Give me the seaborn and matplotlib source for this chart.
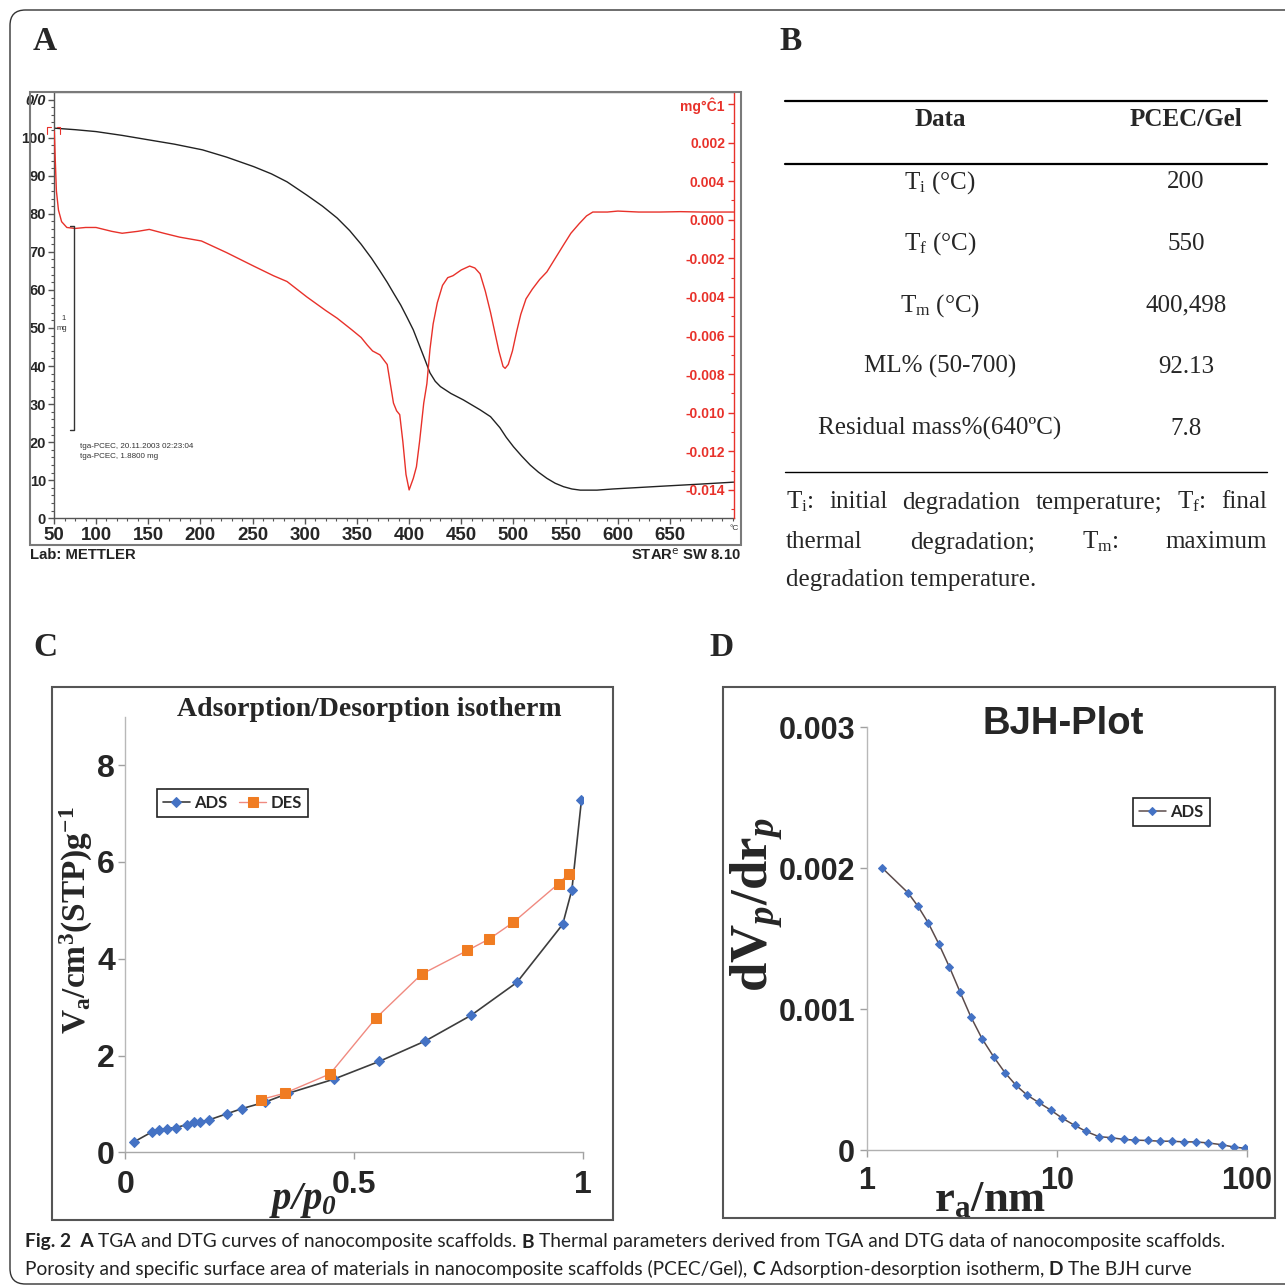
import matplotlib
matplotlib.use("Agg")
import numpy as np
import matplotlib.pyplot as plt
import seaborn as sns
from matplotlib.patches import Rectangle, FancyBboxPatch
from matplotlib.lines import Line2D
from matplotlib.ticker import NullLocator

# ---------------- data ----------------
# A: TGA (mass %) and DTG (mg/°C) against temperature
tga_temp = [60, 80, 100, 125, 151, 175, 202, 225, 251, 268, 283, 302, 317, 331, 343, 354, 364,
            372, 379, 385, 392, 398, 404, 409, 414, 420, 425, 430, 440, 452, 460, 468, 478,
            487, 493, 500, 508, 516, 524, 532, 540, 548, 556, 564, 580, 595, 640, 680, 711]
tga_mass = [102.5, 102.1, 101.6, 100.6, 99.4, 98.3, 96.8, 94.9, 92.4, 90.5, 88.4, 84.9, 82.0,
            78.9, 75.6, 72.0, 68.3, 65.0, 62.0, 59.2, 56.0, 52.8, 49.5, 46.0, 42.5, 38.2, 36.0,
            34.6, 32.8, 31.1, 29.8, 28.5, 26.7, 23.8, 21.3, 18.8, 16.3, 14.0, 12.1, 10.5, 9.2,
            8.3, 7.7, 7.4, 7.4, 7.7, 8.4, 9.0, 9.5]

dtg_temp = [60, 61, 62, 64, 67, 72, 80, 90, 100, 115, 125, 140, 151, 165, 180, 201, 225, 251,
            270, 283, 302, 320, 331, 345, 354, 360, 365, 372, 379, 382, 385, 388, 391, 394, 397,
            400, 404, 407, 410, 414, 417, 420, 423, 427, 432, 437, 442, 450, 458, 463, 468, 473,
            478, 482, 486, 490, 492, 495, 499, 503, 507, 512, 518, 525, 532, 540, 548, 555, 563,
            570, 576, 590, 600, 620, 640, 660, 680, 700, 711]
dtg_rate = [0.0046, 0.0030, 0.0015, 0.0005, -0.0001, -0.0004, -0.00045, -0.0004, -0.0004,
            -0.0006, -0.0007, -0.0006, -0.0005, -0.0007, -0.0009, -0.0011, -0.0017, -0.0024,
            -0.0029, -0.0032, -0.0040, -0.0047, -0.0051, -0.0057, -0.0061, -0.0065, -0.0068,
            -0.0070, -0.0075, -0.0085, -0.0095, -0.0099, -0.0101, -0.0115, -0.0132, -0.0140,
            -0.0134, -0.0128, -0.0115, -0.0095, -0.0085, -0.0067, -0.0054, -0.0043, -0.0034,
            -0.0030, -0.0029, -0.0026, -0.0024, -0.0025, -0.0028, -0.0037, -0.0048, -0.0058,
            -0.0068, -0.0076, -0.0077, -0.0075, -0.0068, -0.0058, -0.0049, -0.0041, -0.0036,
            -0.0031, -0.0027, -0.0020, -0.0013, -0.0007, -0.0002, 0.0002, 0.0004, 0.0004,
            0.00045, 0.0004, 0.0004, 0.00042, 0.0004, 0.0004, 0.0004]

tga_xticks = [60, 100, 150, 200, 250, 300, 350, 400, 450, 500, 550, 600, 650]
tga_xticklabels = ["50", "100", "150", "200", "250", "300", "350", "400", "450",
                   "500", "550", "600", "650"]
tga_yticks = [0, 10, 20, 30, 40, 50, 60, 70, 80, 90, 100, 110]
tga_yticklabels = ["0", "10", "20", "30", "40", "50", "60", "70", "80", "90", "100", "0/0"]
dtg_yticks = [-0.014, -0.012, -0.010, -0.008, -0.006, -0.004, -0.002, 0.0, 0.002, 0.004, 0.006]
dtg_yticklabels = ["-0.014", "-0.012", "-0.010", "-0.008", "-0.006", "-0.004", "-0.002",
                   "0.000", "0.004", "0.002", "mg°Ĉ1"]

# B: thermal parameters table
table_params = [r"T$_\mathrm{i}$ (°C)", r"T$_\mathrm{f}$ (°C)", r"T$_\mathrm{m}$ (°C)",
                "ML% (50-700)", "Residual mass%(640ºC)"]
table_values = ["200", "550", "400,498", "92.13", "7.8"]

# C: adsorption / desorption isotherm
ads_p = [0.020, 0.058, 0.074, 0.090, 0.110, 0.134, 0.151, 0.164, 0.183, 0.223, 0.254,
         0.306, 0.356, 0.455, 0.555, 0.655, 0.755, 0.855, 0.955, 0.975, 0.996]
ads_v = [0.22, 0.42, 0.47, 0.49, 0.51, 0.57, 0.62, 0.63, 0.67, 0.80, 0.90,
         1.04, 1.22, 1.51, 1.88, 2.30, 2.83, 3.51, 4.71, 5.42, 7.28]
des_p = [0.296, 0.348, 0.447, 0.547, 0.647, 0.747, 0.795, 0.847, 0.946, 0.969]
des_v = [1.09, 1.22, 1.62, 2.77, 3.68, 4.17, 4.41, 4.75, 5.55, 5.76]

# D: BJH pore size distribution
bjh_r = [1.21, 1.65, 1.86, 2.11, 2.39, 2.72, 3.10, 3.53, 4.05, 4.67, 5.34, 6.09, 6.97, 8.01,
         9.29, 10.7, 12.4, 14.2, 16.6, 19.3, 22.5, 25.9, 30.0, 34.7, 40.1, 46.7, 53.9, 62.5,
         73.8, 85.9, 97.8]
bjh_v = [0.00200, 0.001825, 0.00173, 0.00161, 0.001465, 0.00130, 0.00112, 0.000945, 0.000788,
         0.000658, 0.000548, 0.00046, 0.00039, 0.000338, 0.000283, 0.000225, 0.000175,
         0.000133, 0.000095, 0.0000875, 0.000075, 0.00007, 0.0000675, 0.0000625, 0.0000625,
         0.0000575, 0.0000575, 0.00005, 0.0000375, 0.00002, 0.0000125]

# ---------------- style ----------------
sns.set_theme(style="ticks")
plt.rcParams["font.family"] = ["Liberation Sans", "DejaVu Sans"]
plt.rcParams["mathtext.fontset"] = "custom"
plt.rcParams["mathtext.rm"] = "Liberation Serif"
plt.rcParams["mathtext.it"] = "Liberation Serif:italic"
plt.rcParams["mathtext.bf"] = "Liberation Serif:bold"
plt.rcParams["mathtext.bfit"] = "Liberation Serif:italic:bold"

W, H = 1285, 1288
fig = plt.figure(figsize=(W / 100, H / 100), dpi=100, facecolor="white")
renderer = fig.canvas.get_renderer()


def fx(x):
    return x / W


def fy(y):
    return 1 - y / H


def box(l, t, r, b):
    return [fx(l), fy(b), (r - l) / W, (b - t) / H]


def rect(l, t, r, b, color="#555555", lw=1.5):
    fig.add_artist(Rectangle((fx(l), fy(b)), (r - l) / W, (b - t) / H, transform=fig.transFigure,
                             fill=False, edgecolor=color, linewidth=lw))


def hline(x0, x1, y, lw=1.0, color="black"):
    fig.add_artist(Line2D([fx(x0), fx(x1)], [fy(y), fy(y)], transform=fig.transFigure,
                          color=color, linewidth=lw))


serif = "Liberation Serif"
red = "#e8312a"

# outer rounded border
fig.add_artist(FancyBboxPatch((fx(10), fy(1284)), fx(1320) - fx(10), fy(10) - fy(1284),
                              boxstyle="round,pad=0,rounding_size=0.012",
                              transform=fig.transFigure, fill=False, edgecolor="#333333",
                              linewidth=1.0))

# panel letters
for letter, (px, py) in zip("ABCD", [(45, 42), (791, 42), (45, 648), (721, 648)]):
    fig.text(fx(px), fy(py), letter, family=serif, fontweight="bold", fontsize=24,
             ha="center", va="center")

# ---------------- A: TGA / DTG ----------------
rect(30, 92, 741, 545, color="#7a7a7a", lw=1.5)
ax_a = fig.add_axes(box(54.3, 92, 734, 518.3))
sns.lineplot(x=tga_temp, y=tga_mass, ax=ax_a, color="#222222", linewidth=1.0,
             sort=False, errorbar=None)
ax_a.set(xlim=(60, 711.3), ylim=(0, 112), xlabel="", ylabel="")
ax_a.set_xticks(tga_xticks, tga_xticklabels, fontsize=13.5, fontweight="bold")
ax_a.set_xticks(np.arange(60, 712, 10), minor=True)
ax_a.set_yticks(tga_yticks, tga_yticklabels, fontsize=10.5, fontweight="bold")
ax_a.set_yticks(np.arange(0, 112, 2), minor=True)
ax_a.get_yticklabels()[-1].set_fontstyle("italic")
ax_a.tick_params(which="major", length=4, width=1, color="#555555", pad=2)
ax_a.tick_params(which="minor", length=2.5, width=0.8, color="#555555")
ax_a.spines["right"].set_visible(False)
ax_a.spines["top"].set_color("#7a7a7a")
ax_a.spines["left"].set_color("#555555")
ax_a.spines["bottom"].set_color("#555555")
for s in ax_a.spines.values():
    s.set_linewidth(1.0)

ax_a2 = ax_a.twinx()
sns.lineplot(x=dtg_temp, y=dtg_rate, ax=ax_a2, color=red, linewidth=1.0,
             sort=False, errorbar=None)
ax_a2.set(ylim=(-0.01547, 0.00662), xlim=(60, 711.3), ylabel="", xlabel="")
ax_a2.set_yticks(dtg_yticks, dtg_yticklabels, fontsize=10, fontweight="bold")
ax_a2.set_yticks(np.arange(-0.015, 0.0066, 0.001), minor=True)
ax_a2.tick_params(axis="y", which="both", direction="in", colors=red, pad=-6.5)
ax_a2.tick_params(axis="y", which="major", length=4, width=1)
ax_a2.tick_params(axis="y", which="minor", length=2.5, width=0.8)
for t in ax_a2.yaxis.get_major_ticks():
    t.label2.set_horizontalalignment("right")
for side in ["top", "left", "bottom"]:
    ax_a2.spines[side].set_visible(False)
ax_a2.spines["right"].set_color(red)
ax_a2.spines["right"].set_linewidth(1.0)

# instrument annotations
fig.add_artist(Line2D([fx(70), fx(74.3), fx(74.3), fx(70)], [fy(225.7), fy(225.7), fy(430), fy(430)],
                      transform=fig.transFigure, color="#333333", linewidth=1.0))
fig.add_artist(Line2D([fx(47), fx(47), fx(51)], [fy(134), fy(127), fy(127)],
                      transform=fig.transFigure, color=red, linewidth=0.8))
fig.add_artist(Line2D([fx(57), fx(60), fx(60)], [fy(127), fy(127), fy(134)],
                      transform=fig.transFigure, color=red, linewidth=0.8))
fig.text(fx(64), fy(318), "1", fontsize=5.5, ha="center", va="center", color="#333333")
fig.text(fx(62), fy(329), "mg", fontsize=5.5, ha="center", va="center", color="#333333")
fig.text(fx(80), fy(446), "tga-PCEC, 20.11.2003 02:23:04", fontsize=5.8, ha="left",
         va="center", color="#333333")
fig.text(fx(80), fy(456), "tga-PCEC, 1.8800 mg", fontsize=5.8, ha="left", va="center",
         color="#333333")
fig.text(fx(734), fy(529), "°C", fontsize=6, ha="center", va="center", color="#333333")
fig.text(fx(30), fy(555), "Lab: METTLER", fontsize=10.7, fontweight="bold", ha="left",
         va="center", color="#222222")
fig.text(fx(741), fy(555), r"STAR$^{\mathsf{e}}$ SW 8.10", fontsize=10.7, fontweight="bold",
         ha="right", va="center", color="#222222")

# ---------------- B: table ----------------
hline(785, 1267, 101, lw=1.6)
hline(785, 1267, 164, lw=1.6)
hline(785, 1267, 472, lw=1.0)
fig.text(fx(940), fy(126.5), "Data", family=serif, fontweight="bold", fontsize=18,
         ha="center", va="baseline")
fig.text(fx(1186), fy(126.5), "PCEC/Gel", family=serif, fontweight="bold", fontsize=18,
         ha="center", va="baseline")
for i, (param, val) in enumerate(zip(table_params, table_values)):
    yb = 188.5 + i * 61.5
    fig.text(fx(940), fy(yb), param, family=serif, fontsize=18, ha="center", va="baseline")
    fig.text(fx(1186), fy(yb), val, family=serif, fontsize=18, ha="center", va="baseline")


def justified(words, y, x0, x1, **kw):
    items = [fig.text(0, fy(y), w, ha="left", va="baseline", **kw) for w in words]
    widths = [t.get_window_extent(renderer=renderer).width for t in items]
    gap = (x1 - x0 - sum(widths)) / (len(items) - 1)
    x = x0
    for t, w in zip(items, widths):
        t.set_x(fx(x))
        x += w + gap


justified([r"T$_\mathrm{i}$:", "initial", "degradation", "temperature;", r"T$_\mathrm{f}$:", "final"],
          508.5, 786, 1267, family=serif, fontsize=18)
justified(["thermal", "degradation;", r"T$_\mathrm{m}$:", "maximum"],
          548.5, 786, 1267, family=serif, fontsize=18)
fig.text(fx(786), fy(586.5), "degradation temperature.", family=serif, fontsize=18,
         ha="left", va="baseline")

# ---------------- C: isotherm ----------------
rect(51.7, 686.7, 613, 1220, color="#555555", lw=1.5)
ax_c = fig.add_axes(box(125.3, 716.7, 583.3, 1152.3))
sns.lineplot(x=ads_p, y=ads_v, ax=ax_c, color="#3d3d3d", linewidth=1.2, marker="D",
             markersize=5, markerfacecolor="#4472c4", markeredgecolor="#4472c4",
             label="ADS", sort=False, errorbar=None)
sns.lineplot(x=des_p, y=des_v, ax=ax_c, color="#f08a80", linewidth=1.0, marker="s",
             markersize=6.5, markerfacecolor="#f07c22", markeredgecolor="#f07c22",
             label="DES", sort=False, errorbar=None)
ax_c.set(xlim=(0, 1), ylim=(0, 9), xlabel="", ylabel="")
ax_c.set_xticks([0, 0.5, 1], ["0", "0.5", "1"], fontsize=23, fontweight="bold")
ax_c.set_yticks([0, 2, 4, 6, 8], ["0", "2", "4", "6", "8"], fontsize=23, fontweight="bold")
ax_c.tick_params(length=5, width=1, color="#a0a0a0")
ax_c.tick_params(axis="x", pad=8)
ax_c.tick_params(axis="y", pad=2.5)
sns.despine(ax=ax_c)
ax_c.spines["left"].set_color("#b8b8b8")
ax_c.spines["bottom"].set_color("#a8a8a8")
for s in ax_c.spines.values():
    s.set_linewidth(1.0)
leg = ax_c.legend(loc="upper left", bbox_to_anchor=(fx(157), fy(789)), bbox_transform=fig.transFigure,
                  ncol=2, frameon=True, fancybox=False, edgecolor="#222222", framealpha=1,
                  prop={"family": "Lato", "weight": "bold", "size": 12}, handlelength=1.6,
                  handletextpad=0.3, columnspacing=0.7, borderpad=0.35, borderaxespad=0)
leg.get_frame().set_linewidth(1.2)
fig.text(fx(369), fy(709), "Adsorption/Desorption isotherm", family=serif, fontweight="bold",
         fontsize=20, ha="center", va="center")
fig.text(fx(76), fy(920), r"V$_\mathbf{a}$/cm$^\mathbf{3}$(STP)g$^\mathbf{-1}$", family=serif,
         fontweight="bold", fontsize=24, rotation=90, ha="center", va="center")
fig.text(fx(303), fy(1200), r"p/p$_\mathbfit{0}$", family=serif, fontweight="bold",
         fontstyle="italic", fontsize=28, ha="center", va="center")

# ---------------- D: BJH ----------------
rect(723.3, 686.7, 1275, 1218.3, color="#555555", lw=1.5)
ax_d = fig.add_axes(box(866.7, 727.3, 1247, 1150))
sns.lineplot(x=bjh_r, y=bjh_v, ax=ax_d, color="#5b4b4b", linewidth=1.1, marker="D",
             markersize=4.5, markerfacecolor="#4472c4", markeredgecolor="#4472c4",
             label="ADS", sort=False, errorbar=None)
ax_d.set_xscale("log")
ax_d.set(xlim=(1, 100), ylim=(0, 0.003), xlabel="", ylabel="")
ax_d.set_xticks([1, 10, 100], ["1", "10", "100"], fontsize=22, fontweight="bold")
ax_d.xaxis.set_minor_locator(NullLocator())
ax_d.set_yticks([0, 0.001, 0.002, 0.003], ["0", "0.001", "0.002", "0.003"],
                fontsize=22, fontweight="bold")
ax_d.tick_params(length=5, width=1, color="#a0a0a0")
ax_d.tick_params(axis="x", pad=6.5)
ax_d.tick_params(axis="y", pad=3.5)
sns.despine(ax=ax_d)
ax_d.spines["left"].set_color("#b8b8b8")
ax_d.spines["bottom"].set_color("#b0b0b0")
for s in ax_d.spines.values():
    s.set_linewidth(1.0)
leg_d = ax_d.legend(loc="upper left", bbox_to_anchor=(fx(1133), fy(798)),
                    bbox_transform=fig.transFigure, frameon=True, fancybox=False,
                    edgecolor="#222222", framealpha=1,
                    prop={"family": "Lato", "weight": "bold", "size": 12}, handlelength=1.6,
                    handletextpad=0.3, borderpad=0.35, borderaxespad=0)
leg_d.get_frame().set_linewidth(1.2)
fig.text(fx(1063), fy(724), "BJH-Plot", fontweight="bold", fontsize=27.5, ha="center", va="center")
fig.text(fx(757), fy(905), r"dV$_\mathbfit{p}$/dr$_\mathbfit{p}$", family=serif, fontweight="bold",
         fontsize=38, rotation=90, ha="center", va="center")
fig.text(fx(990), fy(1200), r"r$_\mathbf{a}$/nm", family=serif, fontweight="bold", fontsize=32,
         ha="center", va="center")

# ---------------- caption ----------------
cap_font = "Lato"


def run_width(runs, size):
    total = 0
    for txt, wt in runs:
        t = fig.text(0, 0, txt, family=cap_font, fontweight=wt, fontsize=size)
        total += t.get_window_extent(renderer=renderer).width
        t.remove()
    return total


def space_width(size):
    a = fig.text(0, 0, "a a", family=cap_font, fontsize=size)
    b = fig.text(0, 0, "aa", family=cap_font, fontsize=size)
    w = a.get_window_extent(renderer=renderer).width - b.get_window_extent(renderer=renderer).width
    a.remove()
    b.remove()
    return w


def draw_runs(runs, x0, y, size):
    sp = space_width(size)
    x = x0
    for txt, wt in runs:
        t = fig.text(fx(x), fy(y), txt, family=cap_font, fontweight=wt, fontsize=size,
                     ha="left", va="baseline", color="#222222")
        x += t.get_window_extent(renderer=renderer).width + sp


cap1 = [("Fig. 2  A", "bold"), ("TGA and DTG curves of nanocomposite scaffolds.", "normal"),
        ("B", "bold"), ("Thermal parameters derived from TGA and DTG data of nanocomposite scaffolds.", "normal")]
cap2 = [("Porosity and specific surface area of materials in nanocomposite scaffolds (PCEC/Gel),", "normal"),
        ("C", "bold"), ("Adsorption-desorption isotherm,", "normal"), ("D", "bold"),
        ("The BJH curve", "normal")]
base = 13
w1 = run_width(cap1, base) + space_width(base) * (len(cap1) - 1)
cap_size = base * 1203 / w1
draw_runs(cap1, 25, 1247.5, cap_size)
draw_runs(cap2, 25, 1275, cap_size)

fig.savefig("out.png", dpi=100, facecolor="white")
